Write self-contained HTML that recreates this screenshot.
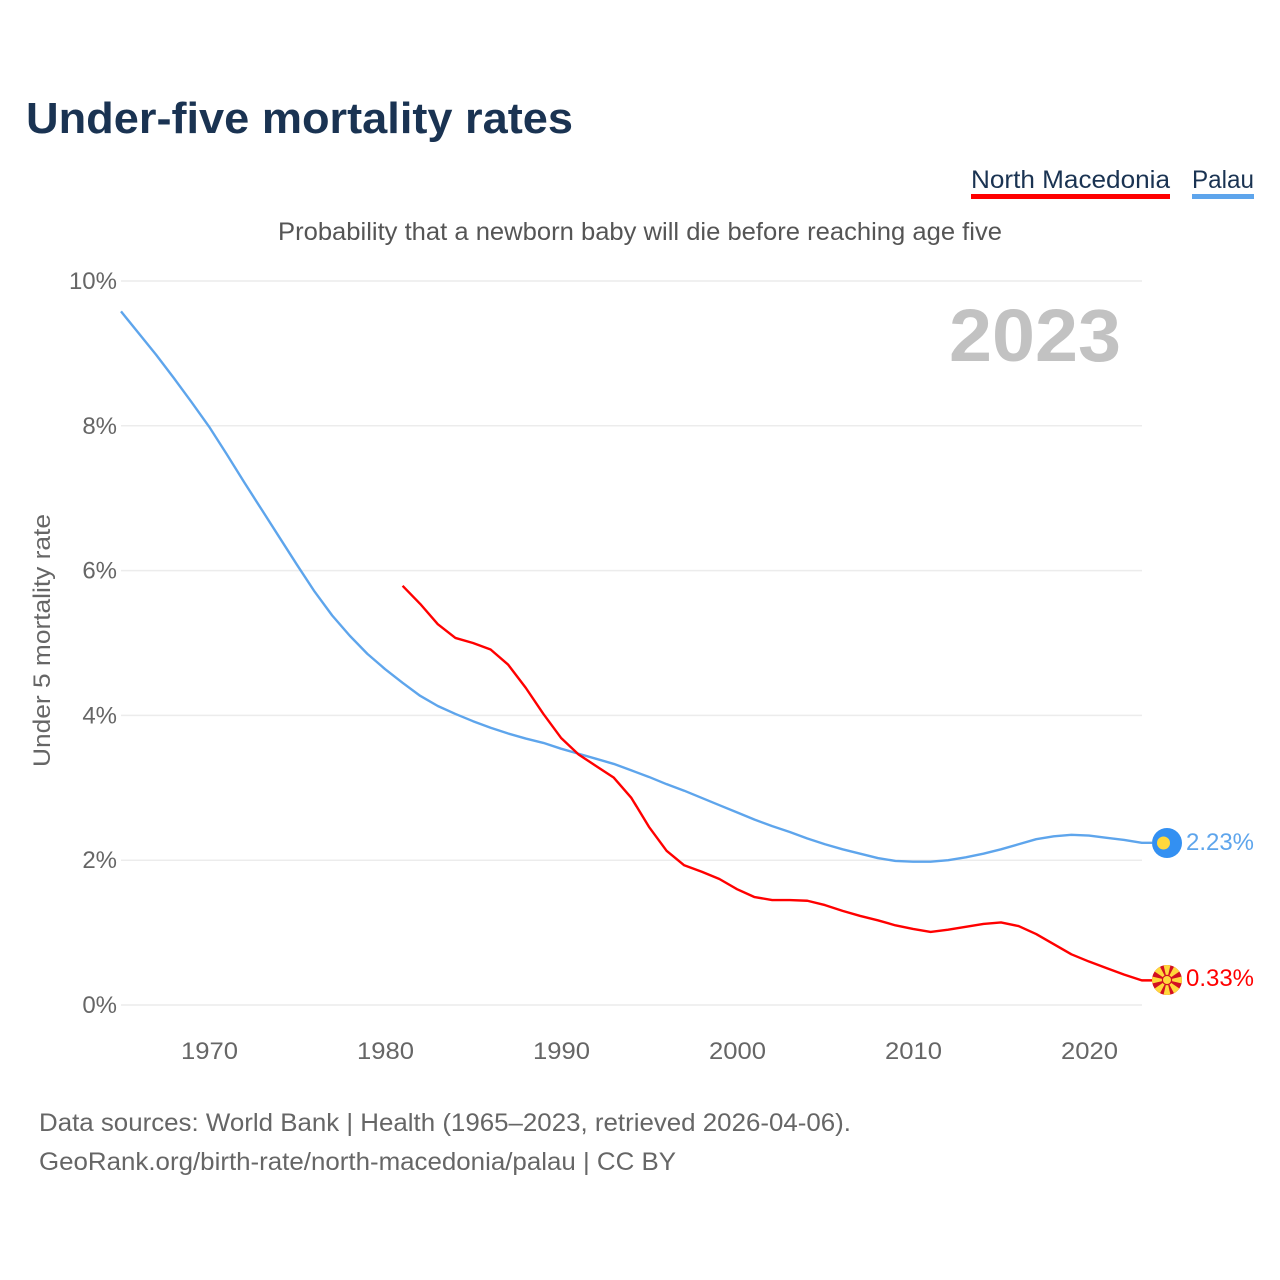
<!DOCTYPE html>
<html lang="en">
<head>
<meta charset="utf-8">
<title>Under-five mortality rates</title>
<style>
html,body{margin:0;padding:0;background:#fff;width:1280px;height:1280px;overflow:hidden}
svg{display:block;font-family:"Liberation Sans",sans-serif}
</style>
</head>
<body>
<svg id="chart" width="1280" height="1280" viewBox="0 0 1280 1280" xmlns="http://www.w3.org/2000/svg">
  <rect x="0" y="0" width="1280" height="1280" fill="#ffffff"/>
  <text x="26" y="133" font-size="44" font-weight="700" fill="#1a3352" textLength="547" lengthAdjust="spacingAndGlyphs">Under-five mortality rates</text>

  <g>
    <text x="971" y="188" font-size="25" fill="#1a3352" textLength="199" lengthAdjust="spacingAndGlyphs">North Macedonia</text>
    <rect x="971" y="194" width="199" height="5" fill="#ff0000"/>
  </g>
  <g>
    <text x="1192" y="188" font-size="25" fill="#1a3352" textLength="62" lengthAdjust="spacingAndGlyphs">Palau</text>
    <rect x="1192" y="194" width="62" height="5" fill="#5ea5ec"/>
  </g>

  <text x="278" y="240" font-size="25" fill="#555555" textLength="724" lengthAdjust="spacingAndGlyphs">Probability that a newborn baby will die before reaching age five</text>

  <g id="grid"></g>
  <g id="yticks"></g>
  <g id="xticks"></g>

  <text x="949" y="361" font-size="74" font-weight="700" fill="#c2c2c2" textLength="172" lengthAdjust="spacingAndGlyphs">2023</text>

  <text transform="translate(50,767) rotate(-90)" x="0" y="0" font-size="24" fill="#666666" textLength="253" lengthAdjust="spacingAndGlyphs">Under 5 mortality rate</text>

  <g id="series"></g>

  <g>
    <circle cx="1167" cy="843" r="15" fill="#3390f2"/>
    <circle cx="1163.5" cy="843" r="6.5" fill="#ffd83c"/>
  </g>
  <g>
    <defs><clipPath id="mk-clip"><circle cx="1167" cy="980" r="15"/></clipPath></defs>
    <g clip-path="url(#mk-clip)">
      <rect x="1152" y="965" width="30" height="30" fill="#d20f22"/>
      <polygon points="1163.5,965 1170.5,965 1167,980" fill="#ffd83c"/>
      <polygon points="1163.5,995 1170.5,995 1167,980" fill="#ffd83c"/>
      <polygon points="1152,976.5 1152,983.5 1167,980" fill="#ffd83c"/>
      <polygon points="1182,976.5 1182,983.5 1167,980" fill="#ffd83c"/>
      <polygon points="1151,969 1158,963 1167,980" fill="#ffd83c"/>
      <polygon points="1183,969 1176,963 1167,980" fill="#ffd83c"/>
      <polygon points="1151,991 1158,997 1167,980" fill="#ffd83c"/>
      <polygon points="1183,991 1176,997 1167,980" fill="#ffd83c"/>
      <circle cx="1167" cy="980" r="5.2" fill="#d20f22"/>
      <circle cx="1167" cy="980" r="4" fill="#ffd83c"/>
    </g>
  </g>

  <text x="1186" y="850" font-size="24" fill="#5ea5ec" textLength="68" lengthAdjust="spacingAndGlyphs">2.23%</text>
  <text x="1186" y="986" font-size="24" fill="#ff0000" textLength="68" lengthAdjust="spacingAndGlyphs">0.33%</text>

  <text x="39" y="1131" font-size="25" fill="#666666" textLength="812" lengthAdjust="spacingAndGlyphs">Data sources: World Bank | Health (1965–2023, retrieved 2026-04-06).</text>
  <text x="39" y="1170" font-size="25" fill="#666666" textLength="637" lengthAdjust="spacingAndGlyphs">GeoRank.org/birth-rate/north-macedonia/palau | CC BY</text>
</svg>
<script>
var years = [1965,1966,1967,1968,1969,1970,1971,1972,1973,1974,1975,1976,1977,1978,1979,1980,1981,1982,1983,1984,1985,1986,1987,1988,1989,1990,1991,1992,1993,1994,1995,1996,1997,1998,1999,2000,2001,2002,2003,2004,2005,2006,2007,2008,2009,2010,2011,2012,2013,2014,2015,2016,2017,2018,2019,2020,2021,2022,2023];
var palauValues = [9.58,9.28,8.98,8.66,8.33,7.99,7.61,7.22,6.84,6.46,6.08,5.71,5.38,5.10,4.85,4.64,4.45,4.27,4.13,4.02,3.92,3.83,3.75,3.68,3.62,3.54,3.47,3.40,3.33,3.24,3.15,3.05,2.96,2.86,2.76,2.66,2.56,2.47,2.39,2.30,2.22,2.15,2.09,2.03,1.99,1.98,1.98,2.00,2.04,2.09,2.15,2.22,2.29,2.33,2.35,2.34,2.31,2.28,2.24];
var macedoniaValues = [null,null,null,null,null,null,null,null,null,null,null,null,null,null,null,null,5.79,5.54,5.26,5.07,5.00,4.91,4.70,4.38,4.02,3.69,3.46,3.30,3.14,2.86,2.46,2.13,1.93,1.84,1.74,1.60,1.49,1.45,1.45,1.44,1.38,1.30,1.23,1.17,1.10,1.05,1.01,1.04,1.08,1.12,1.14,1.09,0.98,0.84,0.70,0.60,0.51,0.42,0.34];
var yTickValues = [0,2,4,6,8,10];
var yTickLabels = ['0%','2%','4%','6%','8%','10%'];
var xTickValues = [1970,1980,1990,2000,2010,2020];
var xTickLabels = ['1970','1980','1990','2000','2010','2020'];

var SVG_NS = 'http://www.w3.org/2000/svg';
function xScale(year) { return 121 + (year - 1965) * 17.6; }
function yScale(value) { return 1005 - value * 72.4; }

var gridGroup = document.getElementById('grid');
var yTickGroup = document.getElementById('yticks');
var xTickGroup = document.getElementById('xticks');
var seriesGroup = document.getElementById('series');

yTickValues.forEach(function (value, i) {
  var line = document.createElementNS(SVG_NS, 'line');
  
  
  line.setAttribute('x1', 121);
  line.setAttribute('x2', 1142);
  line.setAttribute('y1', yScale(value));
  line.setAttribute('y2', yScale(value));
  line.setAttribute('stroke', '#ececec');
  line.setAttribute('stroke-width', 1.5);
  gridGroup.appendChild(line);

  var label = document.createElementNS(SVG_NS, 'text');
  
  
  label.setAttribute('x', 117);
  label.setAttribute('y', yScale(value) + 8);
  label.setAttribute('text-anchor', 'end');
  label.setAttribute('font-size', 24);
  label.setAttribute('fill', '#666666');
  label.textContent = yTickLabels[i];
  yTickGroup.appendChild(label);
});

xTickValues.forEach(function (year, i) {
  var label = document.createElementNS(SVG_NS, 'text');
  
  
  label.setAttribute('x', xScale(year) + 0.5);
  label.setAttribute('y', 1059);
  label.setAttribute('text-anchor', 'middle');
  label.setAttribute('font-size', 24);
  label.setAttribute('fill', '#666666');
  label.setAttribute('textLength', 57);
  label.setAttribute('lengthAdjust', 'spacingAndGlyphs');
  label.textContent = xTickLabels[i];
  xTickGroup.appendChild(label);
});

function linePath(values) {
  var d = '';
  var last = null;
  values.forEach(function (value, i) {
    if (value === null) { return; }
    d += (d ? 'L' : 'M') + xScale(years[i]).toFixed(2) + ' ' + yScale(value).toFixed(2);
    last = value;
  });
  d += 'L1152 ' + yScale(last).toFixed(2);
  return d;
}

var palauLine = document.createElementNS(SVG_NS, 'path');


palauLine.setAttribute('d', linePath(palauValues));
palauLine.setAttribute('fill', 'none');
palauLine.setAttribute('stroke', '#5ea5ec');
palauLine.setAttribute('stroke-width', 2.4);
palauLine.setAttribute('stroke-linejoin', 'round');
seriesGroup.appendChild(palauLine);

var macedoniaLine = document.createElementNS(SVG_NS, 'path');


macedoniaLine.setAttribute('d', linePath(macedoniaValues));
macedoniaLine.setAttribute('fill', 'none');
macedoniaLine.setAttribute('stroke', '#ff0000');
macedoniaLine.setAttribute('stroke-width', 2.4);
macedoniaLine.setAttribute('stroke-linejoin', 'round');
seriesGroup.appendChild(macedoniaLine);
</script>
</body>
</html>
